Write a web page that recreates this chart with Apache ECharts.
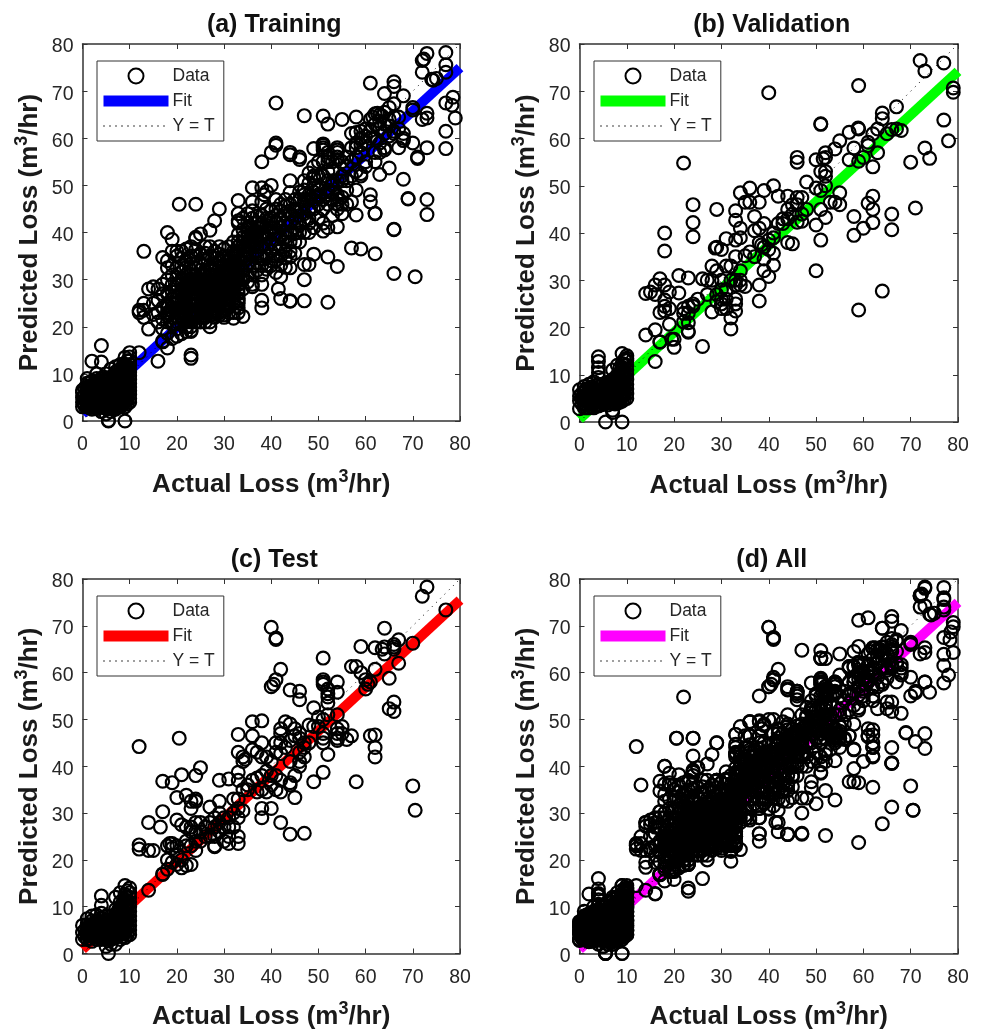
<!DOCTYPE html>
<html><head><meta charset="utf-8">
<style>html,body{margin:0;padding:0;background:#fff}#c{width:983px;height:1031px}</style>
<script src="https://cdn.jsdelivr.net/npm/echarts@6/dist/echarts.min.js"></script>
</head><body><div id="c"></div>
<script>
const panelTitles=['(a) Training','(b) Validation','(c) Test','(d) All'];
const fitColors=['#0000ff','#00ff00','#ff0000','#ff00ff'];
const fitEnds=[[[0,1.5],[80,75]],[[0,0.6],[80,74.2]],[[0,0.9],[80,75.5]],[[0,0.9],[80,75]]];
const identityEnds=[[0,0],[80,80]];
const axisTicks=[0,10,20,30,40,50,60,70,80];

const trainingLow=[[0,3],[0,4],[0,5],[0,6],[0,6.5],[0.5,3.2],[0.5,4.5],[0.5,5.5],[0.5,7],[1,3],[1,4],[1,5],[1,6],[1,7],[1,8],[1,9],[1.5,2.8],[1.5,4],[1.5,5.2],[1.5,6.5],[1.5,7.5],[1.5,8.2],[2,2.5],[2,3.5],[2,4.5],[2,5.5],[2,6.5],[2,7.5],[2,8.5],[2,12.7],[2.5,3],[2.5,4.2],[2.5,5],[2.5,6],[2.5,7.2],[2.5,8],[3,2.6],[3,3.6],[3,4.6],[3,5.8],[3,6.8],[3,8],[3,9],[3,10],[3.5,3],[3.5,4.4],[3.5,5.4],[3.5,6.4],[3.5,7.6],[3.5,8.6],[4,2],[4,3],[4,4],[4,5],[4,6],[4,7],[4,8],[4,9],[4,12.5],[4,16],[4.5,2.8],[4.5,4.2],[4.5,5.6],[4.5,6.6],[4.5,7.8],[4.5,9.3],[5,1.5],[5,3],[5,4.4],[5,5.4],[5,6.2],[5,7.4],[5,8.4],[5,10],[5.5,0],[5.5,0.1],[5.5,2.6],[5.5,4],[5.5,5],[5.5,6],[5.5,7],[5.5,8],[5.5,9.2],[6,2],[6,3],[6,4],[6,5],[6,6],[6,7],[6,8],[6,9],[6,11],[6.5,2.6],[6.5,3.8],[6.5,4.8],[6.5,5.8],[6.5,6.8],[6.5,7.8],[6.5,9.6],[7,2.5],[7,3.4],[7,4.4],[7,5.4],[7,6.4],[7,7.4],[7,8.4],[7,9.4],[7,10.4],[7,11.5],[7.5,3],[7.5,4],[7.5,5],[7.5,6],[7.5,7],[7.5,8],[7.5,9],[7.5,10.6],[8,3],[8,3.8],[8,4.8],[8,5.8],[8,6.8],[8,7.8],[8,8.8],[8,9.8],[8,10.8],[8,12],[8.5,3.4],[8.5,4.4],[8.5,5.4],[8.5,6.4],[8.5,7.4],[8.5,8.4],[8.5,9.4],[8.5,10.4],[8.5,11.6],[9,0],[9,3],[9,4],[9,5],[9,6],[9,7],[9,8],[9,9],[9,10],[9,11],[9,12],[9,13.5],[9.5,3.6],[9.5,4.6],[9.5,5.6],[9.5,6.6],[9.5,7.6],[9.5,8.6],[9.5,9.6],[9.5,10.6],[9.5,11.6],[9.5,12.8],[10,4],[10,4.8],[10,5.6],[10,6.4],[10,7.2],[10,8],[10,8.8],[10,9.6],[10,10.4],[10,11.2],[10,12],[10,12.8],[10,13.6],[10,14.5],
[0.3,3.8],[0.8,4.4],[1.2,5.6],[1.8,3.4],[1.8,6],[2.2,4],[2.2,7],[2.7,3.6],[2.7,5.5],[2.7,6.6],[3.2,3.2],[3.2,5.2],[3.2,7.4],[3.8,3.6],[3.8,4.8],[3.8,7],[3.8,8.2],[4.2,3.6],[4.2,5.6],[4.2,6.6],[4.7,3.6],[4.7,5],[4.7,7.2],[4.7,8.4],[5.2,3.4],[5.2,4.8],[5.2,6.8],[5.8,3.4],[5.8,4.6],[5.8,5.6],[5.8,7.6],[6.2,3.6],[6.2,5.4],[6.2,6.4],[6.2,8.6],[6.8,3],[6.8,4.2],[6.8,5.2],[6.8,7.2],[6.8,8.8],[7.2,3.8],[7.2,4.8],[7.2,5.8],[7.2,6.8],[7.8,3.6],[7.8,4.4],[7.8,5.4],[7.8,6.4],[7.8,8.4],[8.2,3.2],[8.2,5],[8.2,6],[8.2,7.2],[8.2,9.2]];
const trainingHigh=[[73,78],[72,76.5],[72.3,76.8],[77,78.2],[77,75.6],[77,74],[72,74],[74,72.5],[75,72.7],[74.3,72.3],[61,71.7],[66,72],[66,71],[64,69.5],[68,69],[66,67.3],[78.5,68.7],[77,67.5],[78.3,67],[79,64.3],[73,65.3],[73,64.3],[72,64],[70,66.5],[70,66],[77,61.5],[77,57.8],[73,58],[41,67.5],[47,64.8],[51,64.7],[52,63],[55,64],[58,64.5],
[61.5,64.5],[62,65.2],[62.5,65.3],[63,65],[63.5,64.7],[64,65.5],[65,66.5],[66,64.5],[67,64.5],[61,64],[62,63],[63,62],[64,61],[65,60.5],[66,61.5],[66,61],[67,62],[68,61],[68,60],[68,59.5],[67,58],[70,59],[71,56],[71,55.7],[64,58],[63,57],[64,57.5],[62,57],[61,60],[60,59],[59,61.5],[60,62],[59,60],[58,58],[57,61],[58,61.2],[59,57],[60,55],[60,54],[62,55],[63,52.3],[65,53.7],[68,51.3],[69,47.2],[69,47.1],[73,47],[73,43.8],[66,40.7],[66,40.6],[62,35.5],[66,31.3],[70.5,30.6],[59,36.5],[57,36.7],[61,48],[61,46.5],[62,44],[62,44.1],[58,43.7],[58,49],[57,46.5],[56,46],[59,52],[59,52.5],[58,53],[58,56],[57,55],[56,54],
[51,58.5],[51,58],[51,57.5],[52,57],[52,56],[51,55],[50,55],[52,55],[54,58],[54,57.5],[54,57],[54,56],[54,55.5],[55,55],[53,53],[52,53],[51,52],[52,51],[53,50],[54,51],[55,51],[55,52],[50,50],[49,52],[49,51.5],[48,50.5],[49,50],[50,49],[50,48],[51,47],[51,45],[52,46],[54,48],[54,47],[55,47.5],[54,46],[54,45],[55,46],[53,47],[51,42],[51,40.3],[54,41.2],[52,34.8],[54,32.8],[49,35.4],[47,33.2],[48,33.2],[47,30],[47,25.5],[52,25.2],[44,25.5],[44,25.4],[42,26],[41.5,28],[41,31.5],[44,32.5],[38,25.6],[38,24],[44,34.8],[44,36],[44,38],[42,35],[41,35],[43,38],[45,39.8],[47,42.8],[46,42],[48,43],[49,45],[46,47],[47,48],[45,47],[44,48.5],[44,51],[43,47],[42,46],[41,45],[42,43],[41,42],[40,41],[39,40],[38,39],[38,41],[37,42],[40,50],[36,49.5],[38,49.5],[39,48.7],[38.5,48],[38,46.5],[36,46.5],[33,46.8],[33,44],[33,42.5],[33,42],[35,42],[36,43],[37,43.5],[38,42],[35,40],[36,40],[34,39],[33,38],[32,38],[34,37],[33,36],[35,36],[36,38],[37,37],[37,35],[40,34],[39,33],[39,32.2],[38,31],[38,29],[40,36],[41,37],[42,39],[43,40],[44,42],[45,43],[46,45],[47,46],[46,56],[46,55.5],[44,56.5],[44,57],[41,59],[41,58.5],[40,57],[38,55],[49,57.8],[51,58.8],[47,49],[48,47],[45,45],[43,44],[40,43],[39,41.5],[37,39],[35,38],[34,35],[36,33],[35,31],[36,29],[36,28.5],[35,29.5],[37,32],
[13,36],[12,23.5],[13,23.5],[13,25],[12,23],[13,22],[14,19.5],[14,28],[15,28.5],[16,28],[15,25],[16,23],[17,24],[17,27],[17,29],[17,34.7],[18,40],[19,38.5],[19,36],[20,36],[20,35],[21,34.5],[18,32.5],[18,30],[20.5,46],[24,46],[29,45],[28,42.5],[27,40.5],[25,39.7],[24,39],[24,38.7],[23,37],[22,36.5],[29,37],[30,36.5],[27,35],[30,35],[29,34],[28,33],[26,34],[24,33.5],[23,32],[25,32],[22,31],[21,30],[19,29],[18,27],[19,26],[18,25],[19,24],[20,23],[21,24],[22,25],[23,26],[24,27],[25,28],[26,29],[27,30],[28,31],[29,30],[30,31],[31,32],[32,33],[33,34],[32,31],[31,30],[30,29],[29,28],[28,27],[27,26],[26,25],[25,24],[24,23],[23,22],[22,21],[21,22],[20,21],[19,22],[18,21],[18,23],[20,25],[21,26],[22,27],[23,28],[24,29],[25,30],[26,31],[27,32],[28,29],[29,26],[30,27],[31,28],[32,29],[33,30],[34,31],[33,28],[32,27],[31,26],[30,25],[29,24],[28,23],[27,23],[26,23],[25,22],[24,21],[23,20],[22,23],[21,28],[20,29],[19,31],[22,29],[23,30],[24,31],[25,26],[26,27],[27,28],[28,25],[29,29],[30,33],[31,34],[32,35],[33,32],
[16,12.7],[18,15.5],[17,17],[17,16.8],[19,17.5],[20,18],[21,18.5],[22,19],[23,19],[23,19.2],[23,14],[23,13.3],[12,14.5],[27,20],[27,21],[26,21],[29,22.5],[30,22.5],[31,23],[32,21.8],[33,23],[34,22.2],[33,25],[33,25.5],[32,25],[33,24],[30,23.5],[31,24.5]];
const trainingDense=[[18,22.4],[18,24.2],[19,20.6],[19,23.2],[19,25],[19,27.4],[20,19.6],[20,22],[20,24],[20,26.2],[20,27.6],[20,30.4],[21,20.6],[21,23],[21,25.2],[21,27],[21,29],[21,31.6],[22,20],[22,22],[22,24],[22,26],[22,28],[22,30],[22,32.6],[23,21],[23,23],[23,24.6],[23,27],[23,29],[23,31],[23,33.4],[24,22],[24,24.8],[24,26],[24,28],[24,30],[24,32.4],[24,35],[25,21],[25,23],[25,25],[25,27],[25,29],[25,31],[25,33.6],[26,22],[26,24],[26,26],[26,28],[26,30],[26,32],[26,35.6],[27,22.4],[27,24.4],[27,25],[27,27],[27,29],[27,31],[27,33],[28,22],[28,24],[28,26],[28,28],[28,30],[28,32],[28,34.6],[29,23],[29,25],[29,27],[29,31],[29,32.6],[29,35.4],[30,22],[30,24],[30,26],[30,28],[30,30],[30,32],[30,34],[31,25],[31,27],[31,29],[31,31],[31,33],[31,35],[31,37],[32,23],[32,26],[32,28],[32,30],[32,32],[32,34],[32,36],[33,26],[33,27],[33,29],[33,31],[33,33],[33,35],[33,37],[33,39.6],[34,28],[34,30],[34,32],[34,33.6],[34,36],[34,38],[34,40.6],[34,43],[35,33],[35,34.6],[35,37],[35,39],[35,41],[35,44],[36,31],[36,35],[36,37],[36,39],[36,41],[36,44.6],[37,33.6],[37,36],[37,38],[37,40],[37,41],[38,33],[38,35],[38,37],[38,40],[38,43.6],[39,35],[39,37],[39,39],[39,43],[39,45],[40,33],[40,38],[40,40],[40,42],[40,44.6],[41,34],[41,38.6],[41,40],[41,43.6],[41,47],[42,33],[42,37],[42,41],[42,44.6],[43,36],[43,39],[43,42],[43,45.6],[44,40],[44,44],[44,46],[45,38],[45,41],[45,44.6],[46,40],[46,43.6],[46,48.6],[47,40],[47,44],[47,47],[48,45],[48,48],[48,42],[49,47],[49,48.6],[50,46],[50,52],[50,47.6],[52,49],[52,48],[53,51],[53,55],[53,48.6],[56,56],[57,58],[58,59],[59,58.6],[60,60.4],[61,61.6],[62,60],[63,59],[63,63.6],[64,63],[65,62.6],[65,64],
[18,34],[19,33],[20,32.6],[21,33],[21,36],[22,34],[23,35],[24,36.4],[25,35.5],[26,37],[27,37],[28,36],[16,25.6],[15,22.6],[16,21],[17,21.6],[17,19.6],[18,18.6],[42,30.6],[43,32.6],[43,34.6],[45,35.6],[46,38],[48,40],[49,41],[50,43],[52,41],[53,43.6],[55,44],[56,49],[56,51],[57,52],[49,54],[48,52.6],[47,51]];

const validationLow=[[0,2.8],[0,4.5],[0,5.5],[0,6.8],[0.5,3.8],[0.5,5],[0.5,6],[1,3],[1,4],[1,5],[1,6.5],[1,7.5],[1.5,3],[1.5,4.4],[1.5,5.6],[1.5,7],[2,3],[2,4],[2,5],[2,6],[2,7],[2,8],[2.5,3.2],[2.5,4.6],[2.5,5.8],[2.5,7.4],[3,3],[3,4],[3,5],[3,6],[3,7],[3,8.5],[3.5,3.4],[3.5,4.8],[3.5,6.2],[3.5,7.6],[4,3.4],[4,4.6],[4,5.6],[4,6.8],[4,8],[4,9.4],[4,10.5],[4,11.5],[4,12.8],[4,13.8],[4.5,3.6],[4.5,5],[4.5,6.4],[4.5,7.6],[5,3.8],[5,5],[5,6],[5,7],[5,8],[5.5,0],[5.5,4],[5.5,5.4],[5.5,6.6],[6,3.6],[6,4.8],[6,6],[6,7.2],[6,8.4],[6.5,4.2],[6.5,5.4],[6.5,6.6],[6.5,8],[7,2],[7,2.5],[7,4],[7,5],[7,6],[7,7],[7,8],[7,9],[7,11],[7.5,3.8],[7.5,5.2],[7.5,6.4],[7.5,7.6],[7.5,9.2],[8,4],[8,5],[8,6],[8,7],[8,8],[8,9],[8,10],[8,12],[8.5,4.2],[8.5,5.4],[8.5,6.6],[8.5,7.8],[8.5,9],[8.5,10.4],[8.5,11.4],[9,0],[9,4.4],[9,5.4],[9,6.4],[9,7.4],[9,8.4],[9,9.4],[9,10.4],[9,11.4],[9,12.4],[9,14.5],[9.5,4.8],[9.5,6],[9.5,7.2],[9.5,8.4],[9.5,9.6],[9.5,10.8],[9.5,12],[9.5,13.2],[10,5],[10,6],[10,7],[10,8],[10,9],[10,10],[10,11],[10,12],[10,13],[10,13.5],[10,14],
[0.8,5.4],[1.2,4.6],[1.8,5],[2.2,6.4],[2.8,4.2],[2.8,5.4],[3.2,6.6],[3.8,4.2],[3.8,5.2],[4.2,6.2],[4.8,4.4],[4.8,5.6],[5.2,4.6],[5.2,7.4],[5.8,4.4],[5.8,6],[6.2,5.4],[6.8,4.6],[6.8,5.8],[7.2,6.6],[7.2,8.6],[7.8,4.6],[7.8,5.8],[8.2,6.6],[8.2,8.6],[8.8,5],[8.8,7],[9.2,6],[9.2,8],[9.2,10]];
const validationHigh=[[72,76.5],[73,74.3],[77,76],[79,70.7],[79,69.8],[59,71.2],[40,69.7],[67,66.7],[64,65.4],[64,64.2],[51,63.1],[51,63],[59,62],[58.9,62.2],[66,61.9],[67,62],[68,61.7],[77,63.9],[78,59.5],[73,58],[74,55.8],[70,55],[57,61.3],[55,59.5],[54,57.8],[58,58],[57,55.5],[59,55.2],[60,56],[61,58.5],[61,59.2],[62,61],[63,62],[65,61],[63,57],[62,54],[52,57],[52,56],[51.5,55.7],[50,55.5],[46,56],[46,55],[22,54.8],[51,53],[52,53],[52,52],[48,50.8],[52,50],[51,49],[50,49.5],[55,48.5],[36,49.5],[39,49],[41,50],[34,48.5],[35,46.5],[36,46.5],[38,46.5],[42,47.8],[44,47.8],[46,47.5],[47,47.5],[62,47.8],[61,46.3],[62,45],[66,44],[71,45.3],[54,46.5],[55,46],[53,46.5],[51,45],[52,43.3],[50,41.7],[51,38.5],[58,43.5],[58,39.5],[60,41],[62,42.2],[66,40.7],[24,46],[29,45],[33,44.7],[33,42.7],[24,42.2],[24,39.2],[18,40],[18,36.2],[34,41],[37,43.5],[39,42],[38,41],[37,40.5],[34,39],[33,38.5],[31,38.8],[29,37],[28.7,36.8],[30,36.5],[33,35],[35,35.2],[36,36],[37,35],[39,34.5],[40,36.5],[41,35.7],[41,33.2],[39,32],[40,30.8],[38,29],[38,25.6],[50,32],[64,27.7],[59,23.7],
[43,42],[44,43],[45,44],[46,42.3],[47,42.5],[44,45],[45,46],[46,46],[47,44],[48,45],[42,42],[43,43],[41,39],[40,38.5],[38,38],[39,37],[38.5,37.5],[44,38],[45,37.7],[41,40],
[31,33],[32,33],[29,32],[28,33],[26,30.3],[27,30],[28,30],[30,30],[32,30],[33,30],[34,32],[34,30],[35,28.7],[34,29],[33,29],[31,28],[30,28],[29,27],[30,26],[31,26],[30,25],[29,25.5],[27,27],[28,23.3],[30,24],[31,24],[33,26],[33,25],[33,23.5],[32,22],[32,19.7],
[21,31],[23,30.5],[17,30.3],[16,29],[18,29],[15,27.5],[14,27.2],[16,27],[19,27.5],[21,27.3],[18,25.8],[18,24.5],[17,23.2],[18,23.5],[19,24],[19,20.7],[22,24],[23,24.5],[22,23],[23,23],[24,25],[25,26],[24,24.5],[22,21.2],[23,21],[23,19.2],[23,19],[20,17.5],[20,15.8],[19.5,17.5],[17,17],[16,19.5],[14,18.4],[16,12.8],[26,16],[17,16.9]];

const testLow=[[0,3],[0,4.5],[0,6],[0.5,3.6],[0.5,5],[1,3],[1,4],[1,5],[1,6.2],[1,7.4],[1.5,3.2],[1.5,4.6],[1.5,6],[2,2.6],[2,4],[2,5],[2,6],[2,7],[2,8],[2.5,3.4],[2.5,4.8],[2.5,6.4],[3,3],[3,4],[3,5],[3,6],[3,7],[3,8.2],[3.5,3.6],[3.5,5],[3.5,6.6],[4,3],[4,4.2],[4,5.2],[4,6.2],[4,7.4],[4,8.6],[4,10.3],[4,12.3],[4.5,3.4],[4.5,5],[4.5,6.4],[5,1.5],[5,3],[5,4.2],[5,5.2],[5,6.2],[5,7.2],[5,8],[5.5,0],[5.5,3.4],[5.5,4.8],[5.5,6.4],[6,2],[6,3],[6,4],[6,5],[6,6],[6,7],[6,8],[6.5,3.2],[6.5,4.6],[6.5,6],[6.5,7.4],[7,2],[7,3.4],[7,4.4],[7,5.4],[7,6.4],[7,7.4],[7,8.4],[7,9.4],[7,12],[7.5,3.8],[7.5,5],[7.5,6.2],[7.5,7.6],[7.5,9],[8,3],[8,4],[8,5],[8,6],[8,7],[8,8],[8,9],[8,10],[8,11],[8,13],[8.5,3.6],[8.5,5],[8.5,6.4],[8.5,7.8],[8.5,9.4],[8.5,10.8],[9,3.4],[9,4.4],[9,5.4],[9,6.4],[9,7.4],[9,8.4],[9,9.4],[9,10.4],[9,11.4],[9,12.6],[9,14.5],[9.5,4],[9.5,5.4],[9.5,6.8],[9.5,8.2],[9.5,9.6],[9.5,11],[9.5,13.4],[10,4],[10,5],[10,6],[10,7],[10,8],[10,9],[10,10],[10,11],[10,12],[10,13],[10,14],
[0.8,4.4],[1.2,5.6],[1.8,3.8],[2.2,5.6],[2.8,4.4],[3.2,5.4],[3.8,4.4],[3.8,6],[4.2,4.8],[4.2,6.8],[4.8,4],[4.8,5.6],[5.2,3.8],[5.2,5.8],[5.8,4.2],[5.8,5.6],[6.2,3.6],[6.2,6.6],[6.8,4],[6.8,5.4],[6.8,7.8],[7.2,4.8],[7.2,6.2],[7.8,4.4],[7.8,6.8],[7.8,9.6],[8.2,5.4],[8.2,7.6],[8.8,4.6],[8.8,6],[8.8,8.4],[9.2,7],[9.2,10],[9.2,12]];
const testHigh=[[73,78.3],[72,76.3],[77,73.4],[40,69.7],[41,67.4],[41,67.1],[64,69.5],[59,65.6],[62,65.3],[63.5,65],[64,65.5],[64,64],[66,66],[66,65.5],[67,67],[66,65],[70,66.3],[51,63.1],[57,61.3],[58,61.3],[62,60.7],[67,62],[42,60.7],[41,58.5],[40,57],[40.5,57.5],[44,56.3],[46,56],[46,54.2],[51,58.5],[51,58],[51,57.5],[52,56.5],[52,55.5],[52,54.8],[52,53.5],[54,58],[54,55.8],[59,60],[60,58.5],[61,58],[60,56.5],[60.5,57.5],[65,58.8],[66,53.7],[65,52.3],[66,51.7],[49,52.5],[50,50.5],[51,50],[52,51],[54,51],[50,48.5],[48,48.8],[49,48.5],[36,49.5],[38,49.7],[43,49.5],[44,49],[45,48],[42,48],[42,47],[36,46.5],[33,46.8],[41,45],[42,45],[43,44],[44,45.5],[45,46.5],[46,47],[46,46],[47,45],[48,45],[47,44],[46,43],[47,42],[46,41],[46,40],[45,38],[44,36.5],[44,36],[45,33.3],[49,36.7],[51,38.7],[58,36.7],[70,35.8],[70.5,30.6],[51,47],[51,46],[51,45],[52,42.5],[54,48],[55,48.5],[54,47],[55,47],[54,46],[54,45.5],[56,45.7],[57,46.5],[61,46.5],[62,46.7],[62,44],[62,42],[12,44.2],[20.5,46],[25,39.7],[24,38],[21,38.2],[19,36.5],[17,36.8],[33,43],[34,42],[34.5,41.5],[34,41],[36,43.5],[37,43],[38,45],[38,42],[39,42],[40,41],[41,43],[42,42.7],[44,41],[33,38.7],[33,37],[31,37.3],[29,37],[34,35],[35,36],[35,35],[36,37],[37,37.5],[38,38],[39,39],[40,38],[41,38],[42,37],[40,36],[41,35],[42,34.5],[38,35],[39,34.5],[37,34.5],[40,31],[38,31],[38,29],[42,28],[44,25.5],[47,25.7],
[20,33.3],[22,33.8],[23,32.5],[24,33],[24,32.5],[23,31],[17,30.3],[14,28],[16.5,27],[20,28.5],[21,27.5],[22,27],[23,27],[24,28],[25,28],[23,26],[24,26],[25,26],[26,27],[27,31.3],[29,32.5],[28,29],[29,30],[30,29],[27,28],[28,27],[29,28],[31,29],[32,30],[33,31],[33,33],[32,33],[34,30.5],[33,29],[32,27],[31,27],[30,27],[29,26],[28,25],[27,25],[26,25],[25,24],[24,24],[23,23],[22,24],[24,22],[33,25],[33,23.5],[31,25],[31,23.5],[28,22.8],[28,23],[30,24],[12,23.2],[12,22.3],[14,22],[15,22],[18,23],[18.5,23.5],[19,23.5],[19,22.5],[20,23],[20,21],[21,20],[22,23],[18,20],[19,19.5],[20,19],[21,18.3],[23,19],[22,18.8],[17,17],[17,16.9],[18,18],[14,13.5]];

const trainingPoints=trainingLow.concat(trainingHigh,trainingDense);
const validationPoints=validationLow.concat(validationHigh);
const testPoints=testLow.concat(testHigh);
const allPoints=trainingPoints.concat(validationPoints,testPoints);
const panelPoints=[trainingPoints,validationPoints,testPoints,allPoints];

const gridBoxes=[{left:82.5,top:44,width:377.5,height:377},{left:579.5,top:44,width:378.5,height:378},{left:82.5,top:579,width:377.5,height:377},{left:579.5,top:579,width:378.5,height:378}];
const ink='#333333';
const labelInk='#262626';
const font='"Liberation Sans",Arial,sans-serif';
const nameRich={sup:{fontFamily:font,fontWeight:'bold',fontSize:18,color:'#1a1a1a',padding:[0,0,15,0]}};
const yTickRich={t:{fontFamily:font,fontSize:19.5,color:labelInk,padding:[6,0,0,0]}};

const option={animation:false,backgroundColor:'#fff',title:[],grid:[],xAxis:[],yAxis:[],legend:[],series:[]};
panelTitles.forEach((t,i)=>{
  const g=gridBoxes[i];
  option.grid.push(g);
  option.title.push({text:t,left:g.left+g.width/2-2,top:g.top-36,textAlign:'center',textStyle:{fontFamily:font,fontWeight:'bold',fontSize:25,color:'#111'}});
  const ax=(pos,labels,isX)=>({type:'value',gridIndex:i,position:pos,min:0,max:80,interval:10,
    axisLine:{show:true,onZero:false,lineStyle:{color:ink,width:1.5}},
    axisTick:{show:true,inside:true,length:5,lineStyle:{color:ink,width:1}},
    splitLine:{show:false},
    axisLabel:labels?(isX?{show:true,fontFamily:font,fontSize:19.5,color:labelInk,margin:14,hideOverlap:false,showMinLabel:true,showMaxLabel:true,
       formatter:v=>axisTicks.includes(v)?String(v):''}
      :{show:true,margin:9,hideOverlap:false,showMinLabel:true,showMaxLabel:true,rich:yTickRich,
       formatter:v=>axisTicks.includes(v)?'{t|'+v+'}':''}):{show:false}});
  const xa=ax('bottom',true,true);
  xa.name='Actual Loss (m{sup|3}/hr)';xa.nameLocation='middle';xa.nameGap=47;
  xa.nameTextStyle={fontFamily:font,fontWeight:'bold',fontSize:26,color:'#1a1a1a',rich:nameRich};
  const ya=ax('left',true,false);
  ya.name='Predicted Loss (m{sup|3}/hr)';ya.nameLocation='middle';ya.nameGap=36;ya.nameRotate=90;
  ya.nameTextStyle={fontFamily:font,fontWeight:'bold',fontSize:26,color:'#1a1a1a',rich:nameRich};
  option.xAxis.push(xa,ax('top',false,true));
  option.yAxis.push(ya,ax('right',false,false));
  const xi=i*2;
  const tag=' '+t.slice(0,3);
  option.series.push(
    {name:'Data'+tag,type:'scatter',xAxisIndex:xi,yAxisIndex:xi,data:panelPoints[i],symbol:'circle',symbolSize:12.8,clip:false,z:5,silent:true,large:false,progressive:0,
      itemStyle:{color:'rgba(0,0,0,0)',borderColor:'#000',borderWidth:2.2,opacity:1}},
    {name:'Fit'+tag,type:'line',xAxisIndex:xi,yAxisIndex:xi,data:fitEnds[i],symbol:'none',clip:false,z:2,silent:true,
      lineStyle:{color:fitColors[i],width:10,cap:'butt'},itemStyle:{color:fitColors[i]}},
    {name:'Y = T'+tag,type:'line',xAxisIndex:xi,yAxisIndex:xi,data:identityEnds,symbol:'none',clip:false,z:3,silent:true,
      lineStyle:{color:'#000',width:1,type:[1,5]},itemStyle:{color:'#000'}}
  );
  const noDot={color:'rgba(0,0,0,0)',borderColor:'rgba(0,0,0,0)',borderWidth:0};
  option.legend.push({orient:'vertical',left:g.left+14.5,top:g.top+17,selectedMode:false,z:10,
    data:[{name:'Data'+tag},
          {name:'Fit'+tag,itemStyle:noDot,lineStyle:{width:11,color:fitColors[i],cap:'butt'}},
          {name:'Y = T'+tag,itemStyle:noDot,lineStyle:{width:1.6,color:'#000',type:[1,5]}}],
    itemWidth:65,itemHeight:15,itemGap:7,padding:[6,9,6,1],
    backgroundColor:'#fff',borderColor:ink,borderWidth:1,borderRadius:0,
    textStyle:{fontFamily:font,fontSize:17.5,color:labelInk,padding:[4,0,0,-1]},
    formatter:n=>n.slice(0,-4)});
});
const chart=echarts.init(document.getElementById('c'),null,{renderer:'canvas'});
chart.setOption(option);
</script></body></html>
